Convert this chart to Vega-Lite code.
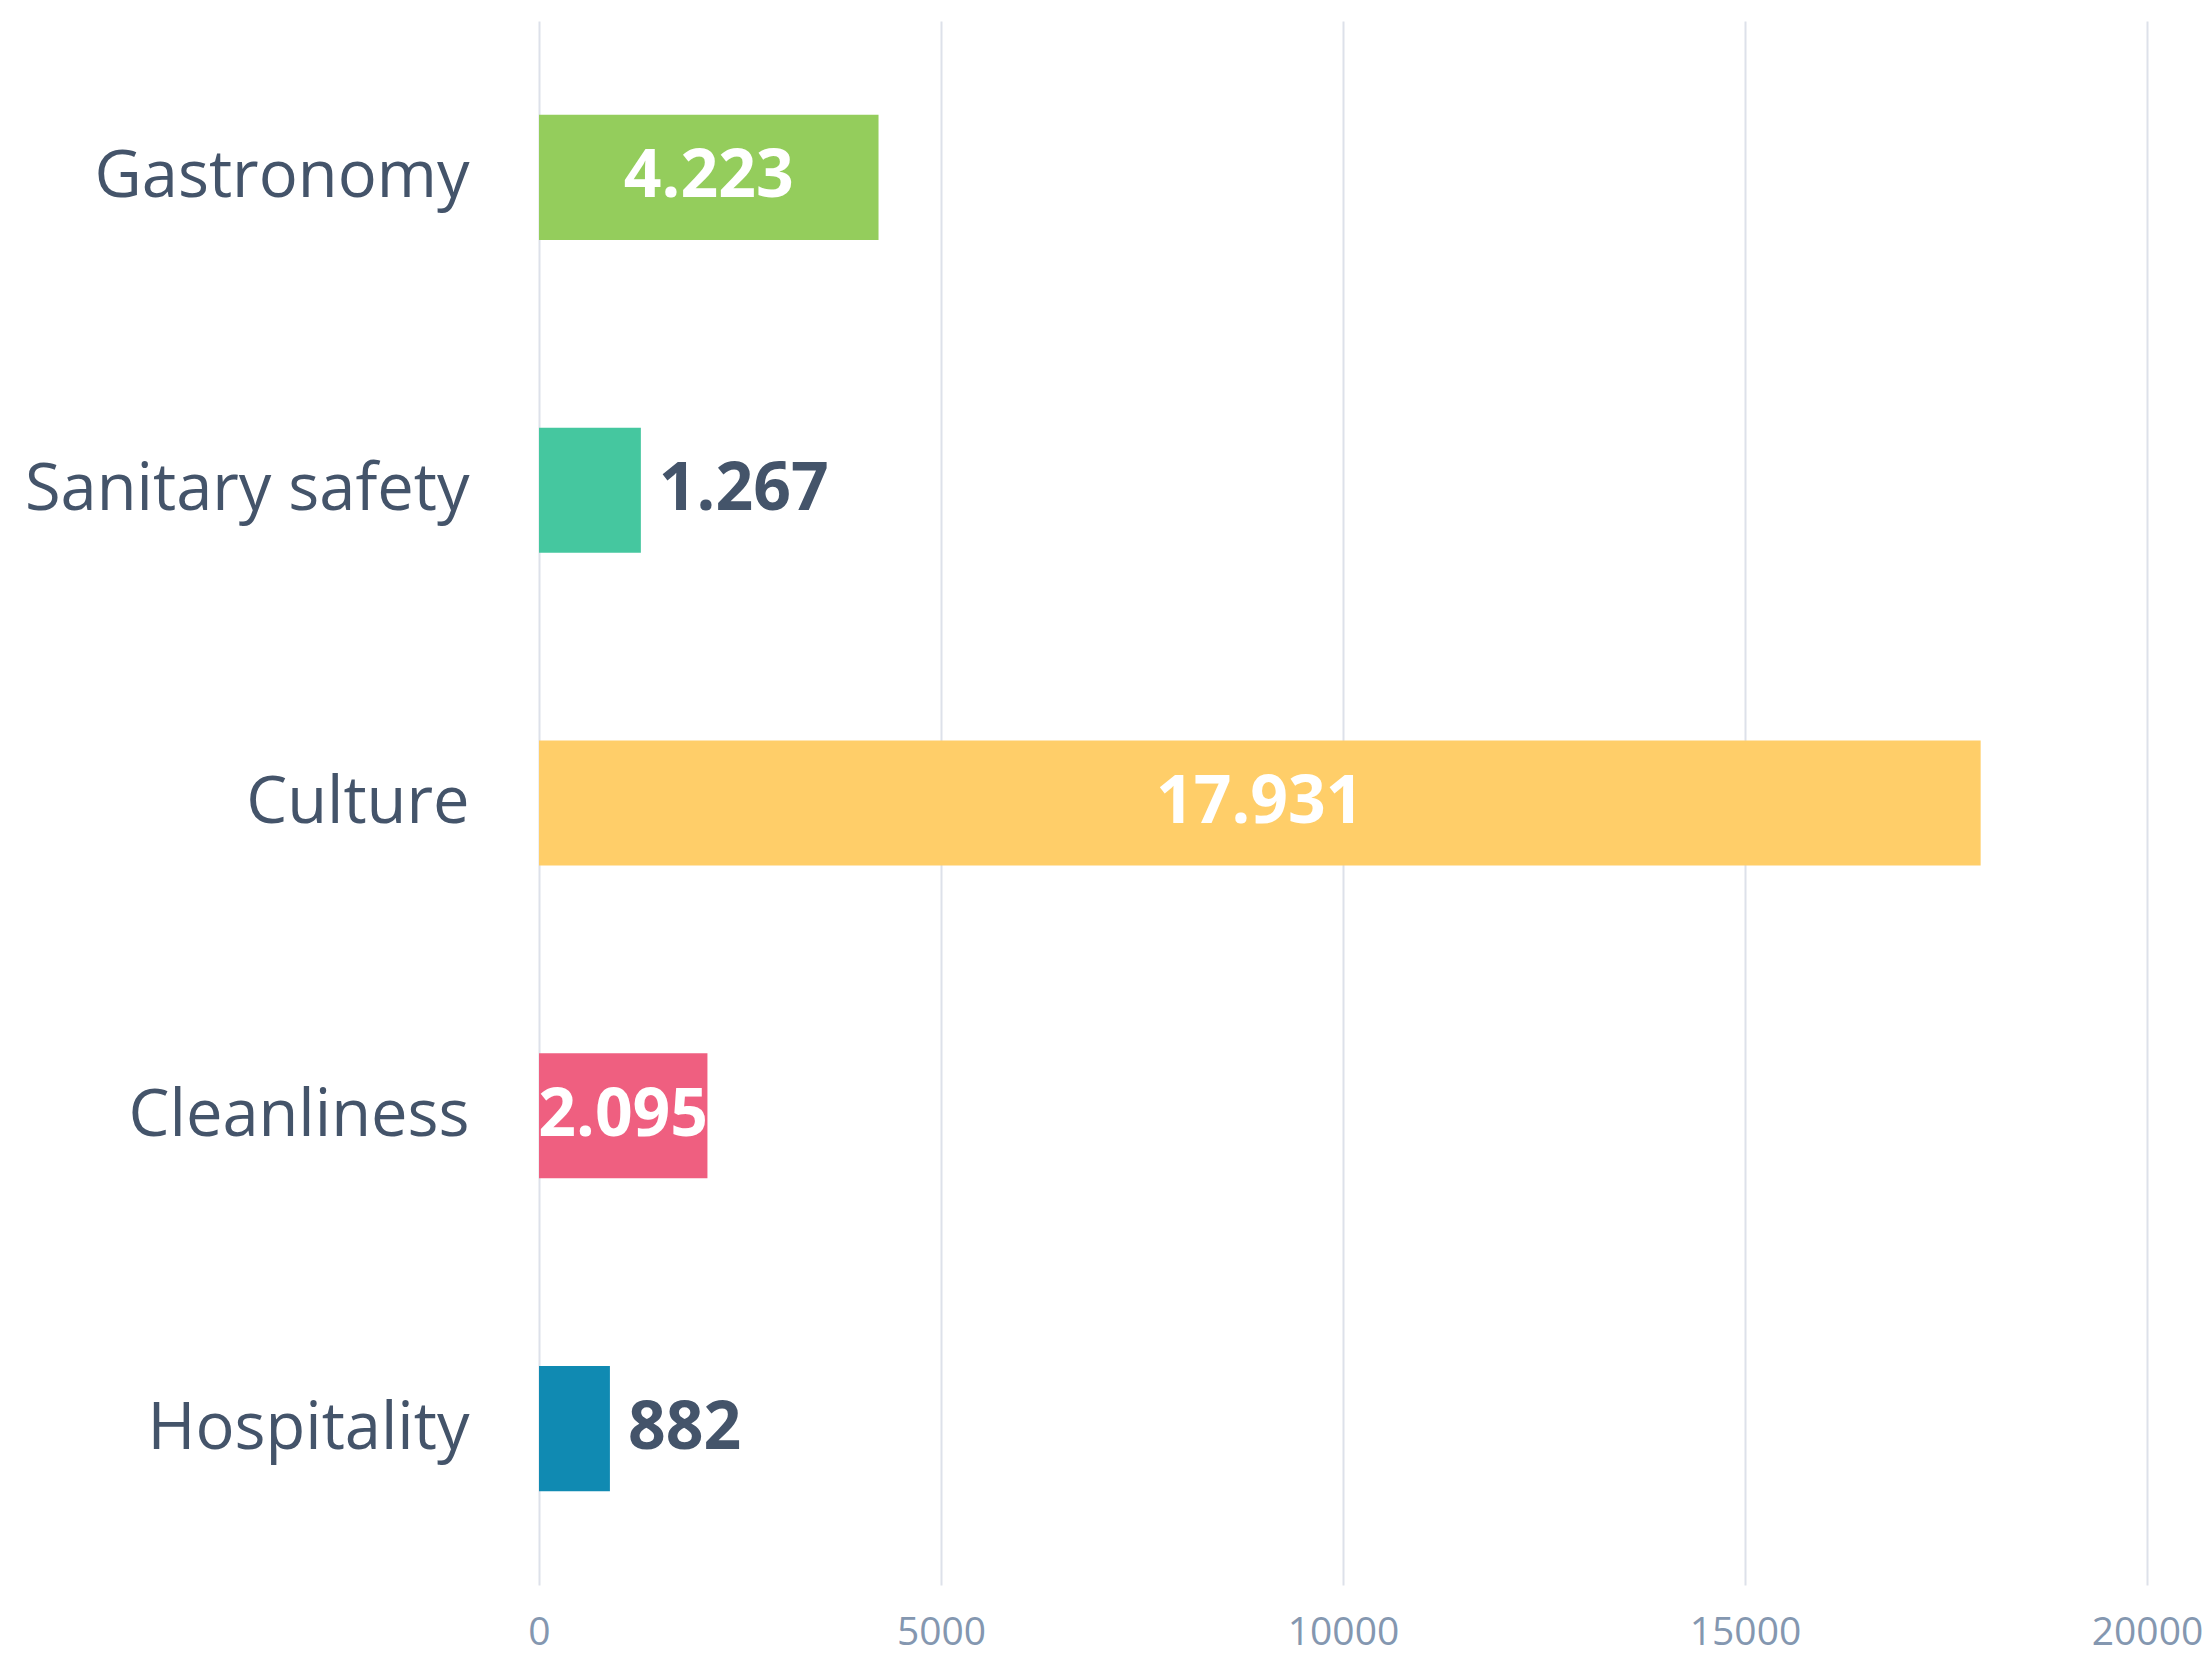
{
  "$schema": "https://vega.github.io/schema/vega-lite/v6.json",
  "width": 1608,
  "height": 1564,
  "autosize": {"type": "none"},
  "padding": {"left": 539, "top": 21, "right": 62, "bottom": 71},
  "background": "white",
  "config": {
    "view": {"stroke": null},
    "locale": {
      "number": {"decimal": ",", "thousands": ".", "grouping": [3], "currency": ["", ""]}
    },
    "font": "Open Sans"
  },
  "data": {
    "values": [
      {"category": "Gastronomy", "value": 4223},
      {"category": "Sanitary safety", "value": 1267},
      {"category": "Culture", "value": 17931},
      {"category": "Cleanliness", "value": 2095},
      {"category": "Hospitality", "value": 882}
    ]
  },
  "encoding": {
    "y": {
      "field": "category",
      "type": "nominal",
      "sort": null,
      "scale": {"paddingInner": 0.6, "paddingOuter": 0.3},
      "axis": {
        "title": null,
        "domain": false,
        "ticks": false,
        "labelFontSize": 65,
        "labelColor": "#44546A",
        "labelPadding": 70,
        "labelLimit": 600
      }
    }
  },
  "layer": [
    {
      "mark": {"type": "bar"},
      "encoding": {
        "x": {
          "field": "value",
          "type": "quantitative",
          "scale": {"domain": [0, 20000], "nice": false},
          "axis": {
            "title": null,
            "values": [0, 5000, 10000, 15000, 20000],
            "format": "d",
            "domain": false,
            "ticks": false,
            "grid": true,
            "gridColor": "#DDE1EA",
            "gridWidth": 2,
            "labelFontSize": 39,
            "labelColor": "#8497B0",
            "labelPadding": 28,
            "labelFlush": false
          }
        },
        "color": {
          "field": "category",
          "type": "nominal",
          "scale": {
            "domain": ["Gastronomy", "Sanitary safety", "Culture", "Cleanliness", "Hospitality"],
            "range": ["#94CD5C", "#45C79F", "#FFCE69", "#EF5F80", "#108AB2"]
          },
          "legend": null
        }
      }
    },
    {
      "transform": [
        {"filter": "datum.value > 2000"},
        {"calculate": "datum.value / 2", "as": "mid"}
      ],
      "mark": {"type": "text", "align": "center", "baseline": "middle", "fontWeight": "bold", "fontSize": 66, "color": "white"},
      "encoding": {
        "x": {"field": "mid", "type": "quantitative"},
        "text": {"field": "value", "type": "quantitative", "format": ",d"}
      }
    },
    {
      "transform": [{"filter": "datum.value <= 2000"}],
      "mark": {"type": "text", "align": "left", "baseline": "middle", "fontWeight": "bold", "fontSize": 66, "color": "#44546A", "dx": 18},
      "encoding": {
        "x": {"field": "value", "type": "quantitative"},
        "text": {"field": "value", "type": "quantitative", "format": ",d"}
      }
    }
  ]
}
